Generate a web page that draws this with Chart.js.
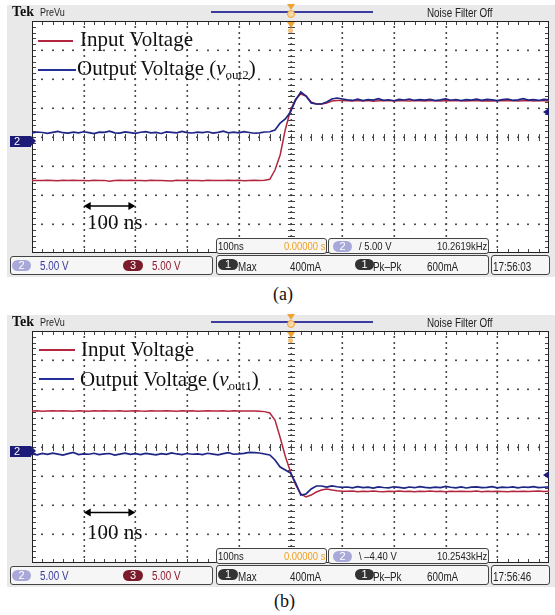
<!DOCTYPE html>
<html>
<head>
<meta charset="utf-8">
<script src="https://cdn.jsdelivr.net/npm/chart.js@4.4.1/dist/chart.umd.min.js"></script>
<style>
  html, body { margin: 0; padding: 0; background: #fff; }
  body { width: 555px; height: 615px; position: relative; overflow: hidden;
         font-family: "Liberation Sans", Arial, sans-serif; color: #222; }
  .panel { position: absolute; left: 0; width: 555px; height: 280px; }
  .panel canvas { position: absolute; left: 0; top: 0; z-index: 1; }
  .abs { position: absolute; white-space: nowrap; z-index: 2; }
  .nar { transform: scaleX(0.82); transform-origin: 0 0; }
  .tek { left: 12px; top: 4px; font: bold 14px/16px "Liberation Serif", serif; color: #111; }
  .prevu { left: 40px; top: 7px; font-size: 11px; line-height: 11px; }
  .noise { left: 427px; top: 7px; font-size: 12px; line-height: 12px; }
  .recbar { left: 211px; top: 11px; width: 162px; height: 2px; background: #3c3ca0; }
  .trig1 { left: 287px; top: 4px; width: 0; height: 0; border-left: 4px solid transparent; border-right: 4px solid transparent; border-top: 6px solid #f0a232; }
  .trig1b { left: 287px; top: 10px; width: 6px; height: 6px; border: 1px solid #f0a232; border-radius: 50%; background: #f7d9a6; }
  .trig2 { left: 287px; top: 22px; width: 0; height: 0; border-left: 4px solid transparent; border-right: 4px solid transparent; border-top: 6px solid #f0a232; }
  .trig2b { left: 288px; top: 28px; width: 5px; height: 5px; border-radius: 50%; background: #f4c27a; }
  .ch2 { width: 17px; height: 11px; background: #1c1c78; color: #fff; font-size: 11px; line-height: 11px; padding-left: 4px; }
  .ch2:after { content: ""; position: absolute; right: -5px; top: 0; border-top: 5.5px solid transparent; border-bottom: 5.5px solid transparent; border-left: 5px solid #1c1c78; }
  .lvl { width: 0; height: 0; border-top: 4px solid transparent; border-bottom: 4px solid transparent; border-right: 6px solid #1c1c78; }
  .legline { height: 2px; }
  .legtext { font: 21px/21px "Liberation Serif", "Times New Roman", serif; color: #111; }
  .legtext i { font-style: italic; }
  .legtext sub { font-size: 13px; vertical-align: -4px; line-height: 0; }
  .scale { font: 21px/21px "Liberation Serif", "Times New Roman", serif; color: #111; }
  .box { background: #f6f6f6; border: 1px solid #444; border-radius: 3px; box-sizing: border-box; }
  .t11 { font-size: 11.5px; line-height: 11.5px; }
  .t12 { font-size: 12px; line-height: 12px; }
  .pill { border-radius: 6px; color: #fff; text-align: center; font-size: 11px; line-height: 11px; height: 11px; }
  .caption { font: 18px/18px "Liberation Serif", "Times New Roman", serif; color: #111; }
</style>
</head>
<body>

<div class="panel" id="panelA" style="top:0px">
  <canvas id="scopeA" width="555" height="280"></canvas>
  <div class="abs tek">Tek</div>
  <div class="abs prevu nar">PreVu</div>
  <div class="abs recbar"></div>
  <div class="abs trig1b"></div>
  <div class="abs trig1"></div>
  <div class="abs trig2b"></div>
  <div class="abs trig2"></div>
  <div class="abs noise nar">Noise Filter Off</div>
  <div class="abs ch2" style="left:10px;top:136px">2</div>
  <div class="abs lvl" style="left:543px;top:108px"></div>
  <div class="abs legline" style="left:38px;top:40px;width:35px;background:#b3263e"></div>
  <div class="abs legtext" style="left:80px;top:29px">Input Voltage</div>
  <div class="abs legline" style="left:38px;top:69px;width:38px;background:#24309a"></div>
  <div class="abs legtext" style="left:77px;top:58px">Output Voltage (<i>v</i><sub>out2</sub>)</div>
  <div class="abs scale" style="left:87px;top:212px">100 ns</div>

  <div class="abs box" style="left:216px;top:238px;width:111px;height:16px"></div>
  <div class="abs t11 nar" style="left:218px;top:240.5px">100ns</div>
  <div class="abs t11 nar" style="left:284px;top:240.5px;color:#f0a020">0.00000 s</div>
  <div class="abs box" style="left:328px;top:238px;width:161px;height:16px"></div>
  <div class="abs pill" style="left:333px;top:241px;width:19px;background:#a9a9d9">2</div>
  <div class="abs t11 nar" style="left:359px;top:240.5px">/ 5.00 V</div>
  <div class="abs t11 nar" style="left:437px;top:240.5px">10.2619kHz</div>

  <div class="abs box" style="left:10px;top:256px;width:203px;height:19px"></div>
  <div class="abs pill" style="left:12px;top:260px;width:19px;background:#a9a9d9">2</div>
  <div class="abs t12 nar" style="left:40px;top:260px;color:#3a3a9a">5.00 V</div>
  <div class="abs pill" style="left:123px;top:260px;width:20px;background:#7b1c2c">3</div>
  <div class="abs t12 nar" style="left:152px;top:260px;color:#8b1a2a">5.00 V</div>
  <div class="abs box" style="left:216px;top:255px;width:273px;height:20px"></div>
  <div class="abs pill" style="left:218px;top:259px;width:20px;background:#333">1</div>
  <div class="abs t12 nar" style="left:238px;top:260.5px">Max</div>
  <div class="abs t12 nar" style="left:290px;top:260.5px">400mA</div>
  <div class="abs pill" style="left:355px;top:259px;width:19px;background:#333">1</div>
  <div class="abs t12 nar" style="left:373px;top:260.5px">Pk–Pk</div>
  <div class="abs t12 nar" style="left:427px;top:260.5px">600mA</div>
  <div class="abs box" style="left:491px;top:255px;width:59px;height:20px"></div>
  <div class="abs t12 nar" style="left:493px;top:260.5px">17:56:03</div>
</div>

<div class="panel" id="panelB" style="top:310px">
  <canvas id="scopeB" width="555" height="280"></canvas>
  <div class="abs tek">Tek</div>
  <div class="abs prevu nar">PreVu</div>
  <div class="abs recbar"></div>
  <div class="abs trig1b"></div>
  <div class="abs trig1"></div>
  <div class="abs trig2b"></div>
  <div class="abs trig2"></div>
  <div class="abs noise nar">Noise Filter Off</div>
  <div class="abs ch2" style="left:10px;top:136px">2</div>
  <div class="abs lvl" style="left:543px;top:161px"></div>
  <div class="abs legline" style="left:39px;top:39px;width:36px;background:#b3263e"></div>
  <div class="abs legtext" style="left:81px;top:29px">Input Voltage</div>
  <div class="abs legline" style="left:39px;top:68px;width:35px;background:#24309a"></div>
  <div class="abs legtext" style="left:80px;top:59px">Output Voltage (<i>v</i><sub>out1</sub>)</div>
  <div class="abs scale" style="left:87px;top:212px">100 ns</div>

  <div class="abs box" style="left:216px;top:238px;width:111px;height:16px"></div>
  <div class="abs t11 nar" style="left:218px;top:240.5px">100ns</div>
  <div class="abs t11 nar" style="left:284px;top:240.5px;color:#f0a020">0.00000 s</div>
  <div class="abs box" style="left:328px;top:238px;width:161px;height:16px"></div>
  <div class="abs pill" style="left:333px;top:241px;width:19px;background:#a9a9d9">2</div>
  <div class="abs t11 nar" style="left:359px;top:240.5px">\ –4.40 V</div>
  <div class="abs t11 nar" style="left:437px;top:240.5px">10.2543kHz</div>

  <div class="abs box" style="left:10px;top:256px;width:203px;height:19px"></div>
  <div class="abs pill" style="left:12px;top:260px;width:19px;background:#a9a9d9">2</div>
  <div class="abs t12 nar" style="left:40px;top:260px;color:#3a3a9a">5.00 V</div>
  <div class="abs pill" style="left:123px;top:260px;width:20px;background:#7b1c2c">3</div>
  <div class="abs t12 nar" style="left:152px;top:260px;color:#8b1a2a">5.00 V</div>
  <div class="abs box" style="left:216px;top:255px;width:273px;height:20px"></div>
  <div class="abs pill" style="left:218px;top:259px;width:20px;background:#333">1</div>
  <div class="abs t12 nar" style="left:238px;top:260.5px">Max</div>
  <div class="abs t12 nar" style="left:290px;top:260.5px">400mA</div>
  <div class="abs pill" style="left:355px;top:259px;width:19px;background:#333">1</div>
  <div class="abs t12 nar" style="left:373px;top:260.5px">Pk–Pk</div>
  <div class="abs t12 nar" style="left:427px;top:260.5px">600mA</div>
  <div class="abs box" style="left:491px;top:255px;width:59px;height:20px"></div>
  <div class="abs t12 nar" style="left:493px;top:260.5px">17:56:46</div>
</div>

<div class="abs caption" style="left:273px;top:285px">(a)</div>
<div class="abs caption" style="left:274px;top:592px">(b)</div>

<script>
// time axis, 10 ns per sample, trigger at 0 (100 ns/div)
const timeNs = [
  -500, -490, -480, -470, -460, -450, -440, -430, -420, -410,
  -400, -390, -380, -370, -360, -350, -340, -330, -320, -310,
  -300, -290, -280, -270, -260, -250, -240, -230, -220, -210,
  -200, -190, -180, -170, -160, -150, -140, -130, -120, -110,
  -100, -90, -80, -70, -60, -50, -40, -30, -20, -10,
  0, 10, 20, 30, 40, 50, 60, 70, 80, 90,
  100, 110, 120, 130, 140, 150, 160, 170, 180, 190,
  200, 210, 220, 230, 240, 250, 260, 270, 280, 290,
  300, 310, 320, 330, 340, 350, 360, 370, 380, 390,
  400, 410, 420, 430, 440, 450, 460, 470, 480, 490,
  500
]

// (a) rising edge, volts (5 V/div)
const outputA = [
  0.70, 0.86, 0.78, 0.62, 0.80, 0.95, 0.74, 0.66, 0.83, 0.71,
  0.90, 0.76, 0.60, 0.85, 0.79, 1.02, 0.72, 0.68, 0.88, 0.75,
  0.64, 0.82, 0.93, 0.70, 0.78, 0.61, 0.87, 0.80, 0.72, 0.96,
  0.77, 0.69, 0.84, 0.74, 0.90, 0.66, 0.79, 1.00, 0.73, 0.85,
  0.70, 0.92, 0.78, 0.65, 0.72, 0.86, 0.90, 1.21, 2.41, 3.10,
  4.31, 6.38, 7.76, 7.07, 5.86, 5.69, 5.69, 6.03, 6.55, 6.72,
  6.55, 6.40, 6.30, 6.52, 6.28, 6.45, 6.35, 6.60, 6.33, 6.42,
  6.25, 6.48, 6.38, 6.55, 6.30, 6.44, 6.36, 6.50, 6.27, 6.41,
  6.58, 6.34, 6.46, 6.29, 6.43, 6.37, 6.52, 6.31, 6.47, 6.39,
  6.26, 6.45, 6.55, 6.33, 6.40, 6.62, 6.36, 6.44, 6.30, 6.48,
  6.41
]
const inputA = [
  -7.50, -7.48, -7.52, -7.45, -7.50, -7.55, -7.47, -7.50, -7.44, -7.52,
  -7.49, -7.53, -7.46, -7.50, -7.48, -7.62, -7.51, -7.47, -7.50, -7.45,
  -7.52, -7.49, -7.55, -7.46, -7.50, -7.48, -7.53, -7.60, -7.47, -7.50,
  -7.44, -7.51, -7.49, -7.54, -7.46, -7.50, -7.48, -7.52, -7.45, -7.50,
  -7.47, -7.53, -7.49, -7.46, -7.50, -7.45, -7.30, -5.69, -3.10, 1.30,
  4.66, 6.55, 7.41, 7.07, 6.03, 5.69, 5.69, 5.86, 6.21, 6.30,
  6.30, 6.25, 6.20, 6.30, 6.22, 6.28, 6.18, 6.26, 6.24, 6.30,
  6.21, 6.27, 6.23, 6.19, 6.29, 6.25, 6.22, 6.28, 6.24, 6.20,
  6.26, 6.31, 6.23, 6.27, 6.21, 6.25, 6.29, 6.22, 6.26, 6.19,
  6.24, 6.28, 6.23, 6.27, 6.21, 6.25, 6.30, 6.22, 6.26, 6.24,
  6.20
]

// (b) falling edge, volts (5 V/div)
const outputB = [
  -1.20, -1.35, -1.10, -1.28, -1.05, -1.22, -1.40, -1.15, -0.95, -1.30,
  -1.18, -1.25, -1.08, -1.32, -1.20, -1.12, -1.38, -1.22, -1.05, -1.28,
  -1.16, -1.30, -1.10, -1.24, -1.36, -1.14, -1.26, -1.02, -1.20, -1.32,
  -1.12, -1.25, -1.18, -1.30, -1.08, -1.22, -1.34, -1.15, -0.98, -1.25,
  -1.20, -1.10, -0.92, -0.98, -1.03, -1.21, -1.38, -2.24, -3.45, -3.97,
  -4.48, -6.21, -8.28, -8.10, -7.24, -6.72, -6.72, -6.90, -6.72, -6.85,
  -6.95, -6.90, -7.05, -6.85, -7.00, -6.92, -7.10, -6.88, -6.98, -7.04,
  -6.86, -6.95, -7.08, -6.90, -7.02, -6.84, -6.97, -7.06, -6.91, -6.99,
  -6.80, -6.94, -7.03, -6.89, -7.07, -6.93, -6.86, -7.01, -6.95, -6.82,
  -7.04, -6.92, -6.98, -6.87, -7.05, -6.90, -6.96, -6.83, -7.00, -6.94,
  -6.88
]
const inputB = [
  6.20, 6.24, 6.18, 6.22, 6.26, 6.19, 6.23, 6.21, 6.17, 6.25,
  6.22, 6.18, 6.24, 6.20, 6.27, 6.21, 6.19, 6.23, 6.16, 6.22,
  6.25, 6.20, 6.18, 6.24, 6.21, 6.19, 6.26, 6.22, 6.17, 6.23,
  6.20, 6.24, 6.18, 6.22, 6.25, 6.19, 6.21, 6.23, 6.18, 6.24,
  6.20, 6.22, 6.19, 6.21, 6.18, 6.10, 5.86, 4.66, 1.65, -1.65,
  -4.25, -6.55, -8.10, -8.62, -8.28, -7.76, -7.41, -7.24, -7.41, -7.55,
  -7.62, -7.65, -7.60, -7.70, -7.62, -7.68, -7.58, -7.66, -7.72, -7.63,
  -7.67, -7.60, -7.69, -7.64, -7.71, -7.62, -7.66, -7.59, -7.68, -7.65,
  -7.70, -7.61, -7.67, -7.63, -7.69, -7.66, -7.60, -7.72, -7.64, -7.68,
  -7.62, -7.66, -7.70, -7.63, -7.67, -7.61, -7.69, -7.65, -7.60, -7.68,
  -7.64
]

const redTrace = '#b3263e'
const blueTrace = '#1e2585'

// grey scope screen, white graticule area, dots, minor ticks, frame, 100 ns arrow
const scopeDecor = {
  id: 'scopeDecor',
  beforeDraw(chart) {
    const ctx = chart.ctx
    const a = chart.chartArea
    ctx.save()
    ctx.fillStyle = '#e9e9e9'
    ctx.fillRect(7, 5, 548, 272)
    ctx.fillStyle = '#ffffff'
    ctx.fillRect(a.left, a.top, a.right - a.left, a.bottom - a.top)
    ctx.restore()
  },
  beforeDatasetsDraw(chart) {
    const ctx = chart.ctx
    const a = chart.chartArea
    const x = chart.scales.x
    const y = chart.scales.y
    const cx = Math.round(x.getPixelForValue(0))
    const cy = Math.round(y.getPixelForValue(0))
    ctx.save()
    // graticule dots: vertical lines dotted every 1 V, horizontal lines every 20 ns
    ctx.fillStyle = '#4a4a4a'
    for (let t = -400; t <= 400; t += 100) {
      const px = Math.round(x.getPixelForValue(t))
      for (let v = -19; v <= 19; v += 1) {
        ctx.fillRect(px - 0.5, Math.round(y.getPixelForValue(v)) - 1, 1.6, 2)
      }
    }
    for (let v = -15; v <= 15; v += 5) {
      const py = Math.round(y.getPixelForValue(v))
      for (let t = -480; t <= 480; t += 20) {
        ctx.fillRect(Math.round(x.getPixelForValue(t)) - 1, py - 0.5, 2, 1.6)
      }
    }
    // minor ticks on the frame and on the centre cross
    ctx.fillStyle = '#444444'
    for (let t = -480; t <= 480; t += 20) {
      const px = Math.round(x.getPixelForValue(t))
      ctx.fillRect(px, a.top, 1, 4)
      ctx.fillRect(px, a.bottom - 4, 1, 4)
      ctx.fillRect(px, cy - 3, 1, 7)
    }
    for (let v = -19; v <= 19; v += 1) {
      const py = Math.round(y.getPixelForValue(v))
      ctx.fillRect(a.left, py, 4, 1)
      ctx.fillRect(a.right - 4, py, 4, 1)
      ctx.fillRect(cx - 3, py, 7, 1)
    }
    ctx.strokeStyle = '#222222'
    ctx.lineWidth = 1
    ctx.strokeRect(a.left + 0.5, a.top + 0.5, a.right - a.left - 1, a.bottom - a.top - 1)
    ctx.restore()
  },
  afterDatasetsDraw(chart, args, opts) {
    const ctx = chart.ctx
    const x = chart.scales.x
    const y = chart.scales.y
    const x1 = x.getPixelForValue(-400)
    const x2 = x.getPixelForValue(-300)
    const py = y.getPixelForValue(opts.arrowV)
    ctx.save()
    ctx.strokeStyle = '#000'
    ctx.fillStyle = '#000'
    ctx.lineWidth = 1.5
    ctx.beginPath()
    ctx.moveTo(x1 + 4, py); ctx.lineTo(x2 - 4, py)
    ctx.stroke()
    ctx.beginPath()
    ctx.moveTo(x1, py); ctx.lineTo(x1 + 7, py - 4); ctx.lineTo(x1 + 7, py + 4); ctx.closePath()
    ctx.moveTo(x2, py); ctx.lineTo(x2 - 7, py - 4); ctx.lineTo(x2 - 7, py + 4); ctx.closePath()
    ctx.fill()
    ctx.restore()
  }
}

function scopeChart(canvasId, output, input, arrowV) {
  return new Chart(document.getElementById(canvasId), {
    type: 'line',
    data: {
      datasets: [
        {
          label: 'Output Voltage',
          data: timeNs.map((t, i) => ({ x: t, y: output[i] })),
          borderColor: blueTrace,
          borderWidth: 1.7,
          pointRadius: 0
        },
        {
          label: 'Input Voltage',
          data: timeNs.map((t, i) => ({ x: t, y: input[i] })),
          borderColor: redTrace,
          borderWidth: 1.5,
          pointRadius: 0
        }
      ]
    },
    options: {
      responsive: false,
      animation: false,
      devicePixelRatio: 1,
      layout: { padding: { left: 32, top: 21, right: 6, bottom: 27 } },
      plugins: {
        legend: { display: false },
        tooltip: { enabled: false },
        scopeDecor: { arrowV: arrowV }
      },
      scales: {
        x: {
          type: 'linear',
          min: -500,
          max: 500,
          ticks: { display: false, stepSize: 100 },
          grid: { display: false, drawTicks: false },
          border: { display: false }
        },
        y: {
          min: -20,
          max: 20,
          ticks: { display: false, stepSize: 5 },
          grid: { display: false, drawTicks: false },
          border: { display: false }
        }
      }
    },
    plugins: [scopeDecor]
  })
}

scopeChart('scopeA', outputA, inputA, -11.9)
scopeChart('scopeB', outputB, inputB, -11.3)
</script>
</body>
</html>
